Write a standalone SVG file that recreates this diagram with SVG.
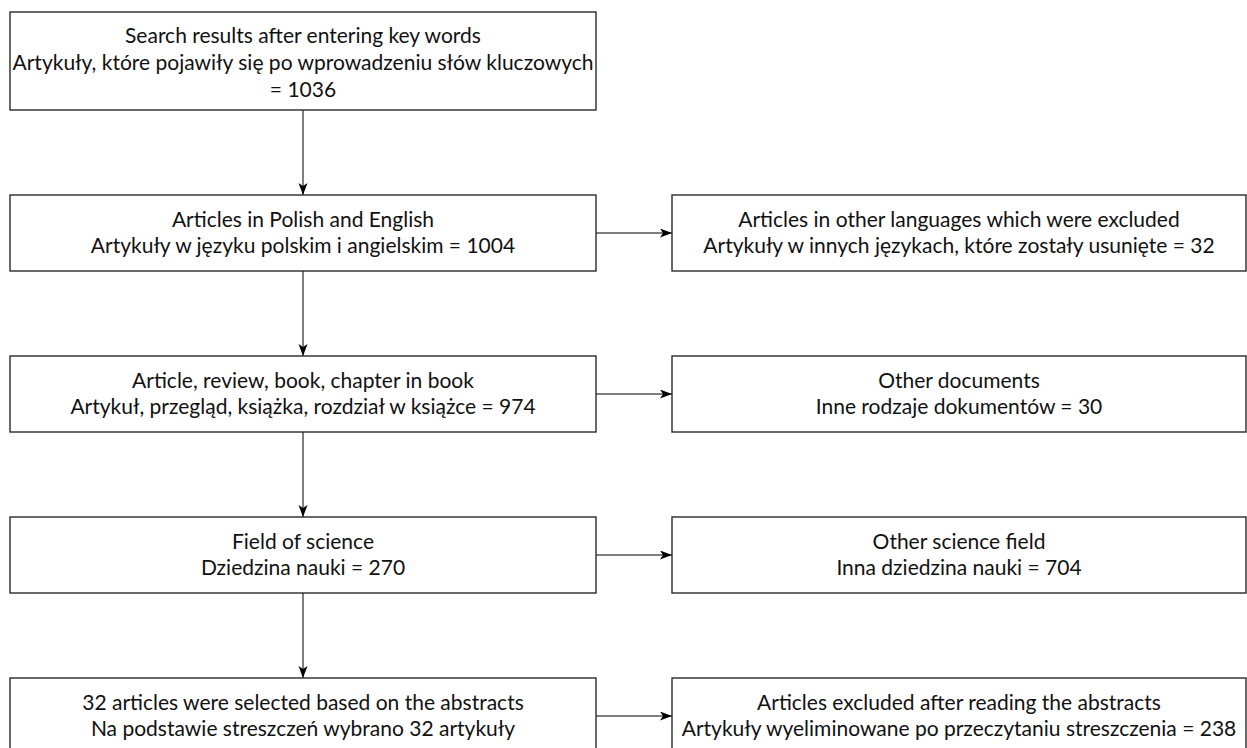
<svg xmlns="http://www.w3.org/2000/svg" width="1247" height="748" viewBox="0 0 1247 748">
<style>
.box{fill:#fff;stroke:#2a2a2a;stroke-width:1.4}
.t{font-family:Lato,"Liberation Sans",sans-serif;font-size:21px;fill:#111;text-anchor:middle}
.c{fill:none;stroke:#555;stroke-width:1.5}
</style>
<defs>
<marker id="ah" markerUnits="userSpaceOnUse" markerWidth="13" markerHeight="10" refX="12" refY="4.5" orient="auto">
<path d="M0,0 L12,4.5 L0,9 L3,4.5 z" fill="#000"/>
</marker>
</defs>
<rect width="1247" height="748" fill="#fff"/>
<g id="connectors">
<line class="c" x1="303" y1="110" x2="303" y2="195" marker-end="url(#ah)"/>
<line class="c" x1="303" y1="271" x2="303" y2="356" marker-end="url(#ah)"/>
<line class="c" x1="303" y1="432" x2="303" y2="517" marker-end="url(#ah)"/>
<line class="c" x1="303" y1="593" x2="303" y2="678" marker-end="url(#ah)"/>
<line class="c" x1="596" y1="233" x2="672" y2="233" marker-end="url(#ah)"/>
<line class="c" x1="596" y1="394" x2="672" y2="394" marker-end="url(#ah)"/>
<line class="c" x1="596" y1="555" x2="672" y2="555" marker-end="url(#ah)"/>
<line class="c" x1="596" y1="716" x2="672" y2="716" marker-end="url(#ah)"/>
</g>
<g id="n1">
<rect class="box" x="10" y="12" width="586" height="98"/>
<text class="t" x="303" y="43">Search results after entering key words</text>
<text class="t" x="303" y="70">Artykuły, które pojawiły się po wprowadzeniu słów kluczowych</text>
<text class="t" x="303" y="97">= 1036</text>
</g>
<g id="n2">
<rect class="box" x="10" y="195" width="586" height="76"/>
<text class="t" x="303" y="227">Articles in Polish and English</text>
<text class="t" x="303" y="253">Artykuły w języku polskim i angielskim = 1004</text>
</g>
<g id="r2">
<rect class="box" x="672" y="195" width="574" height="76"/>
<text class="t" x="959" y="227">Articles in other languages which were excluded</text>
<text class="t" x="959" y="253">Artykuły w innych językach, które zostały usunięte = 32</text>
</g>
<g id="n3">
<rect class="box" x="10" y="356" width="586" height="76"/>
<text class="t" x="303" y="388">Article, review, book, chapter in book</text>
<text class="t" x="303" y="414">Artykuł, przegląd, książka, rozdział w książce = 974</text>
</g>
<g id="r3">
<rect class="box" x="672" y="356" width="574" height="76"/>
<text class="t" x="959" y="388">Other documents</text>
<text class="t" x="959" y="414">Inne rodzaje dokumentów = 30</text>
</g>
<g id="n4">
<rect class="box" x="10" y="517" width="586" height="76"/>
<text class="t" x="303" y="549">Field of science</text>
<text class="t" x="303" y="575">Dziedzina nauki = 270</text>
</g>
<g id="r4">
<rect class="box" x="672" y="517" width="574" height="76"/>
<text class="t" x="959" y="549">Other science field</text>
<text class="t" x="959" y="575">Inna dziedzina nauki = 704</text>
</g>
<g id="n5">
<rect class="box" x="10" y="678" width="586" height="76"/>
<text class="t" x="303" y="710">32 articles were selected based on the abstracts</text>
<text class="t" x="303" y="736">Na podstawie streszczeń wybrano 32 artykuły</text>
</g>
<g id="r5">
<rect class="box" x="672" y="678" width="574" height="76"/>
<text class="t" x="959" y="710">Articles excluded after reading the abstracts</text>
<text class="t" x="959" y="736">Artykuły wyeliminowane po przeczytaniu streszczenia = 238</text>
</g>
</svg>
